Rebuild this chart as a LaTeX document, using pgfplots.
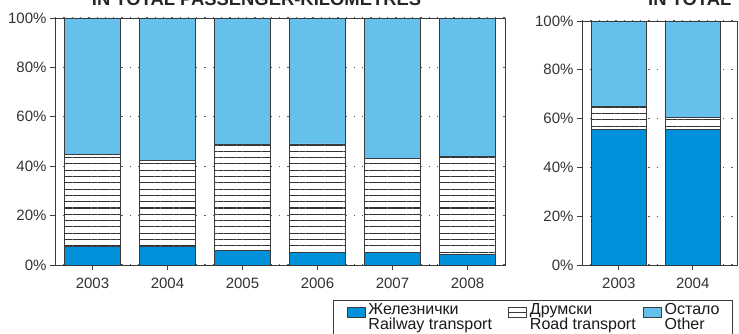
\documentclass[border=0pt]{standalone}
\usepackage{fontspec}
\setmainfont{Liberation Sans}
\usepackage{pgfplots}
\pgfplotsset{compat=1.18}
\usetikzlibrary{patterns.meta}
\definecolor{rail}{RGB}{0,145,218}
\definecolor{other}{RGB}{102,192,236}
\definecolor{txt}{RGB}{50,50,50}
\definecolor{frame}{RGB}{60,60,60}
\newcommand\legfont{\fontsize{16}{15}\selectfont}

\pgfplotsset{
  shares/.style={
    ybar stacked, scale only axis,
    ymin=0, ymax=100, xmin=-0.5,
    ytick={0,20,40,60,80,100},
    yticklabels={0\%,20\%,40\%,60\%,80\%,100\%},
    xtick=data,
    tick align=outside, xtick pos=bottom, ytick pos=left,
    major tick length=5pt,
    tick style={draw=frame, line width=0.9pt},
    axis line style={draw=frame, line width=0.9pt},
    ymajorgrids,
    grid style={draw=black!65, line width=1.3pt, dash pattern=on 1.3pt off 7pt},
    ticklabel style={font=\fontsize{15}{17}\selectfont, text=txt},
    xticklabel style={yshift=-4pt},
  },
  railbar/.style={fill=rail, draw=frame, line width=0.9pt},
  roadbar/.style={fill=white, draw=frame, line width=0.9pt,
    postaction={pattern={Lines[distance=6.3pt, angle=0, line width=1.1pt]}, pattern color=black!80}},
  otherbar/.style={fill=other, draw=frame, line width=0.9pt},
}

\begin{document}
\begin{tikzpicture}
\path[use as bounding box] (0pt,0pt) rectangle (739pt,334pt);

\node[font=\bfseries\fontsize{18.4}{19}\selectfont, text=black!85, anchor=base]
  at (256.5pt,328.5pt) {IN TOTAL PASSENGER-KILOMETRES};
\node[font=\bfseries\fontsize{18.4}{19}\selectfont, text=black!85, anchor=base west, inner sep=0pt]
  at (648pt,328.5pt) {IN TOTAL};

% left panel: passenger-kilometres
\begin{axis}[shares,
  at={(55pt,69pt)}, anchor=south west,
  width=450pt, height=247pt,
  xmax=5.5, bar width=56pt,
  xticklabels={2003,2004,2005,2006,2007,2008},
  legend columns=3,
  legend cell align=left,
  legend style={at={(0.618,-0.142)}, anchor=north west,
    draw=frame, line width=0.9pt,
    inner xsep=13pt, inner ysep=3pt,
    nodes={align=left, inner sep=0pt, text=black!90, font=\legfont},
    /tikz/every odd column/.append style={column sep=3pt},
    /tikz/column 2/.style={column sep=16pt},
    /tikz/column 4/.style={column sep=7pt}},
]
\addplot[railbar,
  legend image code/.code={\draw[fill=rail, draw=frame, line width=0.9pt] (0pt,0pt) rectangle (18pt,10pt);}]
  coordinates {(0,7.6) (1,7.6) (2,5.8) (3,5.1) (4,5.1) (5,4.4)};
\addlegendentry{\legfont Железнички\\\legfont Railway transport}
\addplot[roadbar,
  legend image code/.code={%
    \pgfsetfillcolor{white}\pgfsetstrokecolor{frame}\pgfsetlinewidth{0.9pt}%
    \pgfpathrectangle{\pgfpointorigin}{\pgfpoint{18pt}{10pt}}\pgfusepath{fill,stroke}%
    \pgfpathmoveto{\pgfpoint{0pt}{5pt}}\pgfpathlineto{\pgfpoint{18pt}{5pt}}\pgfusepath{stroke}}]
  coordinates {(0,37.0) (1,34.7) (2,42.9) (3,43.9) (4,37.9) (5,39.5)};
\addlegendentry{\legfont Друмски\\\legfont Road transport}
\addplot[otherbar,
  legend image code/.code={\draw[fill=other, draw=frame, line width=0.9pt] (0pt,0pt) rectangle (18pt,10pt);}]
  coordinates {(0,55.4) (1,57.7) (2,51.3) (3,51.0) (4,57.0) (5,56.1)};
\addlegendentry{\legfont Остало\\\legfont Other}
\end{axis}

% right panel
\begin{axis}[shares,
  at={(582pt,69pt)}, anchor=south west,
  width=155pt, height=244pt,
  xmax=1.6, bar width=55pt,
  xticklabels={2003,2004},
]
\addplot[railbar] coordinates {(0,55.4) (1,55.4)};
\addplot[roadbar] coordinates {(0,9.7) (1,5.2)};
\addplot[otherbar] coordinates {(0,34.9) (1,39.4)};
\end{axis}
\end{tikzpicture}
\end{document}
